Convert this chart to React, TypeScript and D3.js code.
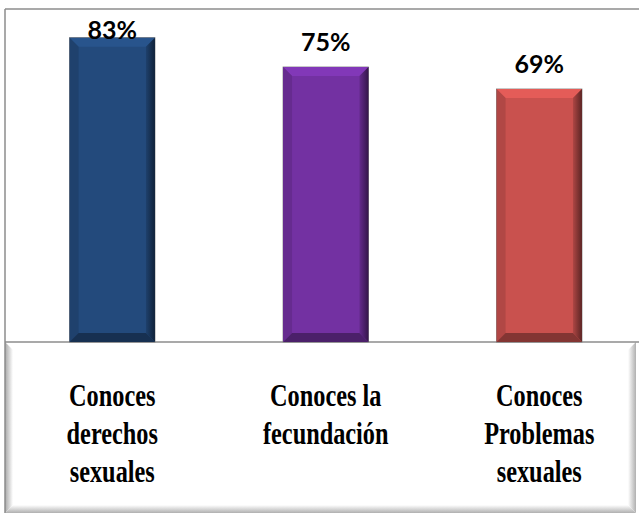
import React from "react";
import * as d3 from "d3";

const categories: string[][] = [
  ["Conoces", "derechos", "sexuales"],
  ["Conoces la", "fecundación"],
  ["Conoces", "Problemas", "sexuales"],
];
const values: number[] = [83, 75, 69];
const colors: string[] = ["#234a7c", "#7331a2", "#c9514e"];

const W = 639;
const H = 517;

function shade(c: string, k: number): string {
  const col = d3.color(c)!;
  return k > 0 ? col.brighter(k).formatHex() : col.darker(-k).formatHex();
}

export default function App() {
  const left = 5;
  const top = 9;
  const baseY = 342;
  const x = d3
    .scaleBand<number>()
    .domain(values.map((_, i) => i))
    .range([left + 0.5, left + 0.5 + 640.5])
    .paddingInner(0.6)
    .paddingOuter(0.3);
  const y = d3.scaleLinear().domain([0, 90]).range([baseY, 12]);
  const bev = 9;

  return (
    <svg
      width={W}
      height={H}
      style={{ position: "absolute", left: 0, top: 0, background: "#fff" }}
    >
      <defs>
        <linearGradient id="bl" x1="0" x2="1" y1="0" y2="0">
          <stop offset="0" stopColor="#a8a8a8" />
          <stop offset="1" stopColor="#ffffff" />
        </linearGradient>
        <linearGradient id="br" x1="1" x2="0" y1="0" y2="0">
          <stop offset="0" stopColor="#b0b0b0" />
          <stop offset="1" stopColor="#ffffff" />
        </linearGradient>
        <linearGradient id="bb" x1="0" x2="0" y1="1" y2="0">
          <stop offset="0" stopColor="#b0b0b0" />
          <stop offset="1" stopColor="#ffffff" />
        </linearGradient>
        {colors.map((c, i) => (
          <linearGradient key={i} id={`rg${i}`} x1="0" x2="1" y1="0" y2="0">
            <stop offset="0" stopColor={shade(c, -0.4)} />
            <stop offset="1" stopColor={shade(c, -2.2)} />
          </linearGradient>
        ))}
      </defs>
      <rect x={left} y={baseY} width={631} height={513 - baseY} fill="#fff" />
      <polygon
        points={`${left},${baseY} ${left + 8},${baseY + 8} ${left + 8},505 ${left},513`}
        fill="url(#bl)"
      />
      <polygon
        points={`636,${baseY} 628,${baseY + 8} 628,505 636,513`}
        fill="url(#br)"
      />
      <polygon
        points={`${left},513 ${left + 8},505 628,505 636,513`}
        fill="url(#bb)"
      />
      <line x1={left} x2={W} y1={top} y2={top} stroke="#8c8c8c" strokeWidth={1.5} />
      <line x1={left} x2={left} y1={top} y2={513} stroke="#8c8c8c" strokeWidth={1.5} />
      <line x1={left} x2={W} y1={baseY} y2={baseY} stroke="#8c8c8c" strokeWidth={1.5} />

      {values.map((v, i) => {
        const x0 = x(i)!;
        const bw = x.bandwidth();
        const x1 = x0 + bw;
        const y0 = y(v);
        const c = colors[i];
        const cx = x0 + bw / 2;
        return (
          <g key={i}>
            <rect x={x0} y={y0} width={bw} height={baseY - y0} fill={c} stroke="#777" strokeWidth={0.8} />
            <polygon
              points={`${x0},${y0} ${x1},${y0} ${x1 - bev},${y0 + bev} ${x0 + bev},${y0 + bev}`}
              fill={shade(c, 0.35)}
            />
            <polygon
              points={`${x0},${y0} ${x0 + bev},${y0 + bev} ${x0 + bev},${baseY - bev} ${x0},${baseY}`}
              fill={shade(c, -0.35)}
            />
            <polygon
              points={`${x1},${y0} ${x1 - bev},${y0 + bev} ${x1 - bev},${baseY - bev} ${x1},${baseY}`}
              fill={`url(#rg${i})`}
            />
            <polygon
              points={`${x0},${baseY} ${x0 + bev},${baseY - bev} ${x1 - bev},${baseY - bev} ${x1},${baseY}`}
              fill={shade(c, -1.2)}
            />
            <text
              x={cx}
              y={Math.max(y0 - 16, 39)}
              textAnchor="middle"
              style={{ fontFamily: "Lato, 'Open Sans', sans-serif", fontWeight: 700, fontSize: 25 }}
              fill="#000"
            >
              {v}%
            </text>
            {categories[i].map((line, j) => (
              <text
                key={j}
                transform={`translate(${cx},${406 + j * 38}) scale(0.9,1.15)`}
                textAnchor="middle"
                style={{
                  fontFamily: "'Liberation Serif', 'DejaVu Serif', 'Times New Roman', serif",
                  fontWeight: 700,
                  fontSize: 27,
                }}
                fill="#000"
              >
                {line}
              </text>
            ))}
          </g>
        );
      })}
    </svg>
  );
}
